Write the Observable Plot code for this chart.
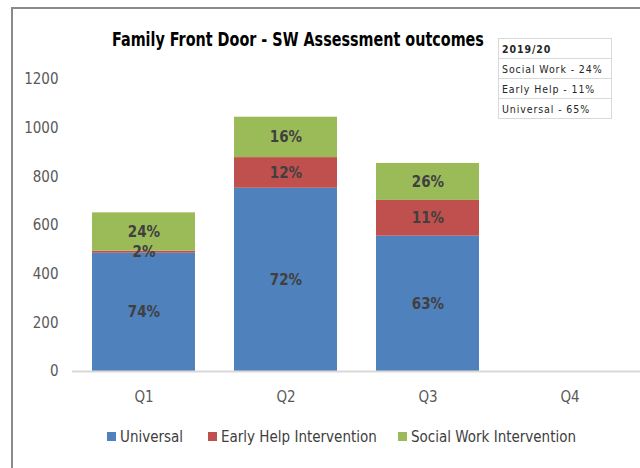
<!DOCTYPE html>
<html>
<head>
<meta charset="utf-8">
<script src="https://cdn.jsdelivr.net/npm/d3@7"></script>
<script src="https://cdn.jsdelivr.net/npm/@observablehq/plot@0.6"></script>
<style>
  body { margin: 0; background: #fff; }
  #wrap { position: relative; width: 640px; height: 468px; overflow: hidden; font-family: "DejaVu Sans Condensed", sans-serif; }
  #frame { position: absolute; left: 11px; top: 7px; width: 700px; height: 500px; border-left: 2px solid #8a8a8a; border-top: 2px solid #8a8a8a; }
  #title { position: absolute; left: 0; width: 596px; top: 28px; text-align: center; font-weight: bold; font-size: 19px; color: #000; transform: scaleX(0.84); transform-origin: 298px 0; }
  #tbl { position: absolute; left: 498px; top: 38px; width: 114px; border-collapse: collapse; font-family: "DejaVu Sans Condensed", sans-serif; font-size: 10.5px; color: #262626; letter-spacing: 0.9px; }
  #tbl td { border: 1px solid #d9d9d9; height: 19px; padding: 0 0 0 3px; }
  #legend { position: absolute; top: 428px; left: 0; width: 640px; font-size: 15px; color: #404040; }
  .li { position: absolute; white-space: nowrap; }
  .sw { display: inline-block; width: 9px; height: 9px; margin-right: 4px; vertical-align: 1px; }
  #chart { position: absolute; left: 0; top: 0; }
</style>
</head>
<body>
<div id="wrap">
  <div id="frame"></div>
  <div id="chart"></div>
  <div id="title"></div>
  <table id="tbl"></table>
  <div id="legend"></div>
</div>
<script>
const quarters = ["Q1", "Q2", "Q3", "Q4"];
const seriesNames = ["Universal", "Early Help Intervention", "Social Work Intervention"];
const seriesColors = ["#4f81bd", "#c0504d", "#9bbb59"];
const universal = [486, 753, 556, null];
const earlyHelp = [9, 126, 147, null];
const socialWork = [157, 166, 152, null];
const universalLabels = ["74%", "72%", "63%", ""];
const earlyHelpLabels = ["2%", "12%", "11%", ""];
const socialWorkLabels = ["24%", "16%", "26%", ""];
const yTicks = [0, 200, 400, 600, 800, 1000, 1200];
const titleText = "Family Front Door - SW Assessment outcomes";
const tableRows = ["2019/20", "Social Work - 24%", "Early Help - 11%", "Universal - 65%"];

const valueSets = [universal, earlyHelp, socialWork];
const labelSets = [universalLabels, earlyHelpLabels, socialWorkLabels];
const data = [];
seriesNames.forEach((s, si) => {
  quarters.forEach((q, qi) => {
    if (valueSets[si][qi] != null) data.push({quarter: q, series: s, value: valueSets[si][qi], label: labelSets[si][qi]});
  });
});

const font = "'DejaVu Sans Condensed', sans-serif";
const chart = Plot.plot({
  width: 640,
  height: 468,
  marginLeft: 72,
  marginRight: 0,
  marginTop: 79,
  marginBottom: 97,
  style: {fontFamily: font, fontSize: "15px", color: "#595959", background: "transparent"},
  x: {domain: quarters, paddingInner: 0.275, paddingOuter: 0.1375, label: null},
  y: {domain: [0, 1200], label: null},
  color: {domain: seriesNames, range: seriesColors},
  marks: [
    Plot.barY(data, Plot.stackY({x: "quarter", y: "value", z: "series", fill: "series", order: seriesNames})),
    Plot.ruleY([0], {stroke: "#d9d9d9", strokeWidth: 2}),
    Plot.text(data, Plot.stackY({x: "quarter", y: "value", z: "series", text: "label", order: seriesNames, fill: "#404040", fontWeight: "bold", fontSize: 15})),
    Plot.axisY({ticks: yTicks, tickFormat: d3.format("d"), tickSize: 0, tickPadding: 14, label: null, fontSize: 15}),
    Plot.axisX({tickSize: 0, tickPadding: 20, label: null, fontSize: 15})
  ]
});
document.getElementById("chart").appendChild(chart);

document.getElementById("title").textContent = titleText;
const tbl = document.getElementById("tbl");
tableRows.forEach((r, i) => {
  const tr = document.createElement("tr");
  const td = document.createElement("td");
  td.textContent = r;
  if (i === 0) td.style.fontWeight = "bold";
  tr.appendChild(td);
  tbl.appendChild(tr);
});
const legendX = [107, 208, 398];
const leg = document.getElementById("legend");
seriesNames.forEach((s, i) => {
  const d = document.createElement("div");
  d.className = "li";
  d.style.left = legendX[i] + "px";
  const sw = document.createElement("span");
  sw.className = "sw";
  sw.style.background = seriesColors[i];
  d.appendChild(sw);
  d.appendChild(document.createTextNode(s));
  leg.appendChild(d);
});
</script>
</body>
</html>
